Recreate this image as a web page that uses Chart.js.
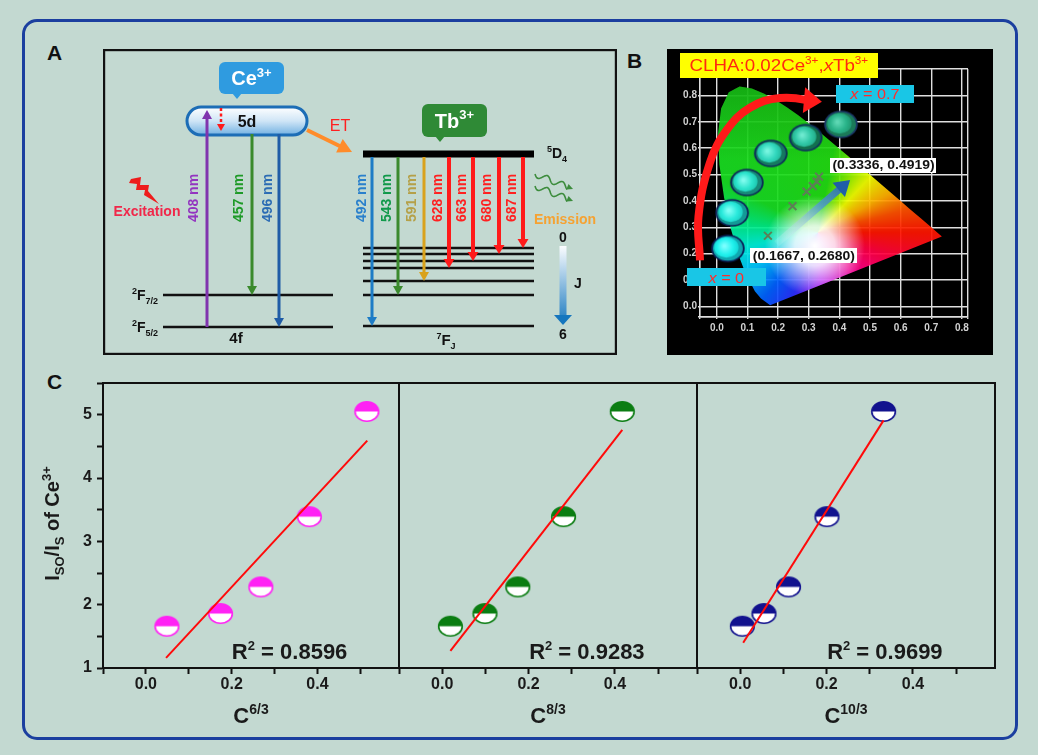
<!DOCTYPE html>
<html>
<head>
<meta charset="utf-8">
<title>Ce3+ / Tb3+ energy transfer</title>
<script src="https://cdn.jsdelivr.net/npm/chart.js@4.4.1/dist/chart.umd.min.js"></script>
<style>
  html, body { margin:0; padding:0; }
  body { width:1038px; height:755px; overflow:hidden; position:relative; background:#c3d9d1; font-family:"Liberation Sans", Arial, sans-serif; }
  #frame { position:absolute; left:22px; top:19px; width:996px; height:721px; border:3px solid #1b3f9f; border-radius:15px; box-sizing:border-box; }
  canvas { position:absolute; }
  .panel { position:absolute; font-weight:bold; font-size:21px; line-height:21px; color:#111; }
</style>
</head>
<body>
<div id="frame"></div>
<div class="panel" style="left:47px;top:42px">A</div>
<div class="panel" style="left:627px;top:50px">B</div>
<div class="panel" style="left:47px;top:371px">C</div>
<canvas id="panelA" width="514" height="306" style="left:103px;top:49px;width:514px;height:306px"></canvas>
<canvas id="panelB" width="326" height="306" style="left:667px;top:49px;width:326px;height:306px;background:#000"></canvas>
<canvas id="c1" width="390" height="390" style="left:14px;top:360px;width:390px;height:390px"></canvas>
<canvas id="c2" width="308" height="390" style="left:394px;top:360px;width:308px;height:390px"></canvas>
<canvas id="c3" width="308" height="390" style="left:692px;top:360px;width:308px;height:390px"></canvas>
<script>
// ====================== DATA ======================
// ---- Panel C : I_SO/I_S of Ce3+ versus C^(n/3) ----
const concPowers = ['6/3', '8/3', '10/3'];
const cPow63  = [0.049, 0.174, 0.268, 0.381, 0.515];
const cPow83  = [0.019, 0.099, 0.175, 0.281, 0.417];
const cPow103 = [0.005, 0.055, 0.112, 0.201, 0.332];
const isoOverIs = [1.66, 1.86, 2.28, 3.39, 5.05];
const fit63X  = [0.047, 0.516], fit63Y  = [1.16, 4.59];
const fit83X  = [0.019, 0.417], fit83Y  = [1.27, 4.76];
const fit103X = [0.007, 0.332], fit103Y = [1.40, 4.91];
const r2Values = ['0.8596', '0.9283', '0.9699'];
const cXTicks = [-0.1, 0, 0.1, 0.2, 0.3, 0.4, 0.5];
const cXTickLabels = ['', '0.0', '', '0.2', '', '0.4', ''];
const cYTicks = [1, 1.5, 2, 2.5, 3, 3.5, 4, 4.5, 5, 5.5];
const cYTickLabels = ['1', '', '2', '', '3', '', '4', '', '5', ''];

// ---- Panel B : CIE 1931 chromaticity diagram ----
const locusX = [0.1741,0.1440,0.1241,0.0913,0.0687,0.0454,0.0235,0.0082,0.0039,0.0139,0.0389,0.0743,0.1142,0.1547,0.1929,0.2296,0.2658,0.3016,0.3373,0.3731,0.4087,0.4441,0.4788,0.5125,0.5448,0.5752,0.6029,0.6270,0.6482,0.6658,0.6915,0.7347];
const locusY = [0.0050,0.0297,0.0578,0.1327,0.2007,0.2950,0.4127,0.5384,0.6548,0.7502,0.8120,0.8338,0.8262,0.8059,0.7816,0.7543,0.7243,0.6923,0.6589,0.6245,0.5896,0.5547,0.5202,0.4866,0.4544,0.4242,0.3965,0.3725,0.3514,0.3340,0.3083,0.2653];
const cieX = [0.1667, 0.247, 0.293, 0.313, 0.326, 0.3336];
const cieY = [0.2680, 0.380, 0.435, 0.456, 0.473, 0.4919];
const photoX = [0.036, 0.050, 0.098, 0.176, 0.290, 0.405];
const photoY = [0.220, 0.355, 0.470, 0.580, 0.640, 0.690];
const shiftX = [0.195, 0.435], shiftY = [0.238, 0.479];
const trendX = [-0.055, -0.060, -0.023, 0.033, 0.108, 0.206, 0.343];
const trendY = [0.175, 0.340, 0.544, 0.670, 0.753, 0.790, 0.776];
const bXTicks = [-0.055, 0, 0.1, 0.2, 0.3, 0.4, 0.5, 0.6, 0.7, 0.8, 0.82];
const bXTickLabels = ['', '0.0', '0.1', '0.2', '0.3', '0.4', '0.5', '0.6', '0.7', '0.8', ''];
const bYTicks = [-0.04, 0, 0.1, 0.2, 0.3, 0.4, 0.5, 0.6, 0.7, 0.8, 0.9];
const bYTickLabels = ['', '0.0', '0.1', '0.2', '0.3', '0.4', '0.5', '0.6', '0.7', '0.8', ''];
const cieLabels = ['(0.1667, 0.2680)', '(0.3336, 0.4919)'];
const dopingLabels = ['0', '0.7'];

// ---- Panel A : energy levels (diagram energy units) ----
const ceLevelE = [60, 28];                       // 2F7/2, 2F5/2
const ce5dE = [220, 248];                        // 5d band bottom / top
const tbLevelE = [107, 101, 94, 87, 74, 60, 29]; // 7F0 ... 7F6
const tb5D4E = 201;
const ceWavelengths = ['408', '457', '496'];
const tbWavelengths = ['492', '543', '591', '628', '663', '680', '687'];
const tbFinalJ = [6, 5, 4, 3, 2, 1, 0];

// ====================== LAYOUT / STYLE ======================
const FONT = '"Liberation Sans", Arial, Helvetica, sans-serif';
Chart.defaults.font.family = FONT;
Chart.defaults.animation = false;
Chart.defaults.events = [];
Chart.defaults.plugins.legend.display = false;
Chart.defaults.plugins.tooltip.enabled = false;

const aLay = {
  ceLevelX: [60, 230], tbLevelX: [260, 431], pillX: [84, 204],
  ceArrowX: [104, 149, 176], ceLabelX: [90, 135, 164],
  tbArrowX: [269, 295, 321, 346, 370, 396, 420], tbLabelX: [258, 283, 308, 334, 358, 383, 408],
  labelY: 157, tbStart: 198
};
const ceArrowColors = ['#8034ae', '#3a8a2c', '#1f5ca6'];
const ceLabelColors = ['#9334c0', '#1e9a28', '#2c6cb4'];
const tbArrowColors = ['#1d7cc6', '#3b8a2e', '#d9a21c', '#ff1a1a', '#ff1a1a', '#ff1a1a', '#ff1a1a'];
const tbLabelColors = ['#2a80cc', '#10994a', '#b5a048', '#ff2020', '#ff2020', '#ff2020', '#ff2020'];
const markerColors = ['#ff22f4', '#0b7d12', '#12128e'];

// ====================== HELPERS ======================
function drawRich(ctx, x, y, parts, o) {
  o = o || {};
  const size = o.size || 14, small = o.small || Math.round(size * 0.65);
  const weight = o.weight || 'bold';
  ctx.save();
  ctx.translate(x, y);
  if (o.sx) ctx.scale(o.sx, 1);
  if (o.rot) ctx.rotate(o.rot);
  ctx.textBaseline = 'alphabetic';
  ctx.textAlign = 'left';
  const specs = parts.map(p => {
    const arr = typeof p === 'string' ? [p, 0] : p;
    const s = arr[1] ? small : size;
    const f = (arr[2] ? 'italic ' : '') + weight + ' ' + s + 'px ' + FONT;
    ctx.font = f;
    return { t: arr[0], m: arr[1], f: f, col: arr[3], w: ctx.measureText(arr[0]).width };
  });
  const total = specs.reduce((a, s) => a + s.w, 0);
  let cx = o.align === 'left' ? 0 : o.align === 'right' ? -total : -total / 2;
  const base = size * 0.36;
  for (const s of specs) {
    ctx.font = s.f;
    ctx.fillStyle = s.col || o.color || '#111';
    const dy = s.m === 1 ? -size * 0.42 : s.m === -1 ? size * 0.26 : 0;
    ctx.fillText(s.t, cx, base + dy);
    cx += s.w;
  }
  ctx.restore();
}
function rr(ctx, x, y, w, h, r) {
  ctx.beginPath();
  ctx.moveTo(x + r, y); ctx.lineTo(x + w - r, y); ctx.arcTo(x + w, y, x + w, y + r, r);
  ctx.lineTo(x + w, y + h - r); ctx.arcTo(x + w, y + h, x + w - r, y + h, r);
  ctx.lineTo(x + r, y + h); ctx.arcTo(x, y + h, x, y + h - r, r);
  ctx.lineTo(x, y + r); ctx.arcTo(x, y, x + r, y, r); ctx.closePath();
}
function seg(x0, y0, x1, y1, color, w, extra) {
  return Object.assign({ data: [{x: x0, y: y0}, {x: x1, y: y1}], showLine: true, borderColor: color,
    backgroundColor: color, borderWidth: w, pointRadius: 0, borderCapStyle: 'butt', tension: 0, clip: false }, extra || {});
}
// arrow heads for datasets carrying a "head" description
const tipStore = new Map();
const arrowPlugin = {
  id: 'arrowHeads',
  beforeDatasetDraw(chart, args) {
    const ds = chart.data.datasets[args.index];
    if (!ds.head) return;
    const pts = args.meta.data, n = pts.length;
    const a = pts[n - 2], b = pts[n - 1];
    const dx = b.x - a.x, dy = b.y - a.y, L = Math.hypot(dx, dy) || 1;
    const t = { x: b.x, y: b.y, ux: dx / L, uy: dy / L };
    tipStore.set(chart.id + ':' + args.index, t);
    b.x -= t.ux * ds.head.len * 0.7; b.y -= t.uy * ds.head.len * 0.7;
  },
  afterDatasetDraw(chart, args) {
    const ds = chart.data.datasets[args.index];
    const t = tipStore.get(chart.id + ':' + args.index);
    if (!ds.head || !t) return;
    const pts = args.meta.data, b = pts[pts.length - 1];
    b.x = t.x; b.y = t.y;
    const ctx = chart.ctx, h = ds.head;
    const bx = t.x - t.ux * h.len, by = t.y - t.uy * h.len, nx = -t.uy, ny = t.ux;
    ctx.save();
    ctx.beginPath(); ctx.moveTo(t.x, t.y);
    ctx.lineTo(bx + nx * h.width / 2, by + ny * h.width / 2);
    ctx.lineTo(bx - nx * h.width / 2, by - ny * h.width / 2);
    ctx.closePath(); ctx.fillStyle = h.color; ctx.fill();
    ctx.restore();
  }
};

// ====================== PANEL A ======================
(function () {
  const ds = [];
  ceLevelE.forEach(e => ds.push(seg(aLay.ceLevelX[0], e, aLay.ceLevelX[1], e, '#111', 2.5, {order: 9})));
  tbLevelE.forEach(e => ds.push(seg(aLay.tbLevelX[0], e, aLay.tbLevelX[1], e, '#111', 2.5, {order: 9})));
  ds.push(seg(aLay.tbLevelX[0], tb5D4E, aLay.tbLevelX[1], tb5D4E, '#000', 7, {order: 9}));
  const ceFrom = [ceLevelE[1], ce5dE[0] + 1, ce5dE[0] + 1];
  const ceTo = [ce5dE[1] - 3, ceLevelE[0], ceLevelE[1]];
  ceWavelengths.forEach((w, i) => ds.push(seg(aLay.ceArrowX[i], ceFrom[i], aLay.ceArrowX[i], ceTo[i], ceArrowColors[i], 3,
    {order: 2, head: {len: 9, width: 10, color: ceArrowColors[i]}})));
  ds.push(seg(118, ce5dE[1] - 1, 118, ce5dE[0] + 4, '#ff1a1a', 2.5, {order: 1, borderDash: [3, 2.5], head: {len: 7, width: 8, color: '#ff1a1a'}}));
  ds.push(seg(ce5dE[1] - 44, ce5dE[0] + 5, 249, tb5D4E + 2, '#ff8c2a', 4, {order: 2, head: {len: 14, width: 15, color: '#ff8c2a'}}));
  tbWavelengths.forEach((w, i) => ds.push(seg(aLay.tbArrowX[i], aLay.tbStart, aLay.tbArrowX[i], tbLevelE[tbFinalJ[i]],
    tbArrowColors[i], i >= 3 ? 4 : 3, {order: 2, head: {len: 9, width: i >= 3 ? 11 : 10, color: tbArrowColors[i]}})));
  ds.push(seg(460, tbLevelE[0] + 2, 460, tbLevelE[6] + 1, (c) => {
    const ch = c.chart; if (!ch.chartArea) return '#1576be';
    const y0 = ch.scales.y.getPixelForValue(tbLevelE[0] + 2), y1 = ch.scales.y.getPixelForValue(tbLevelE[6]);
    const g = ch.ctx.createLinearGradient(0, y0, 0, y1); g.addColorStop(0, '#fbfdff'); g.addColorStop(1, '#1576be'); return g;
  }, 7, {order: 2, head: {len: 10, width: 18, color: '#1576be'}}));

  const plug = {
    id: 'panelA',
    beforeDatasetsDraw(chart) {
      const ctx = chart.ctx, X = v => chart.scales.x.getPixelForValue(v), Y = v => chart.scales.y.getPixelForValue(v);
      const x0 = X(aLay.pillX[0]), x1 = X(aLay.pillX[1]), yT = Y(ce5dE[1]), yB = Y(ce5dE[0]);
      ctx.save();
      rr(ctx, x0, yT, x1 - x0, yB - yT, (yB - yT) / 2);
      const g = ctx.createLinearGradient(0, yT, 0, yB);
      g.addColorStop(0, '#ffffff'); g.addColorStop(0.5, '#cfe5f6'); g.addColorStop(1, '#72b1e2');
      ctx.fillStyle = g; ctx.fill(); ctx.lineWidth = 3; ctx.strokeStyle = '#1c6db6'; ctx.stroke();
      ctx.restore();
    },
    afterDatasetsDraw(chart) {
      const ctx = chart.ctx, X = v => chart.scales.x.getPixelForValue(v), Y = v => chart.scales.y.getPixelForValue(v);
      function callout(xa, xb, ya, yb, tx, color) {
        const px0 = X(xa), px1 = X(xb), py0 = Y(yb), py1 = Y(ya);
        ctx.save(); rr(ctx, px0, py0, px1 - px0, py1 - py0, 6); ctx.fillStyle = color; ctx.fill();
        ctx.beginPath(); ctx.moveTo(X(tx) - 5, py1 - 1); ctx.lineTo(X(tx) + 5, py1 - 1); ctx.lineTo(X(tx), py1 + 5); ctx.closePath(); ctx.fill();
        ctx.restore();
      }
      callout(116, 181, 261, 293, 134, '#2f9be0');
      drawRich(ctx, X(148.5), Y(277), [['Ce', 0], ['3+', 1]], {size: 20, small: 13, color: '#fff'});
      callout(319, 384, 218, 251, 337, '#2f8a36');
      drawRich(ctx, X(351.5), Y(234.5), [['Tb', 0], ['3+', 1]], {size: 20, small: 13, color: '#fff'});
      drawRich(ctx, X(144), Y(234), ['5d'], {size: 16});
      drawRich(ctx, X(237), Y(230), ['ET'], {size: 16, weight: 'normal', color: '#ff2020'});
      ceWavelengths.forEach((w, i) => drawRich(ctx, X(aLay.ceLabelX[i]), Y(aLay.labelY), [w + ' nm'], {size: 14, color: ceLabelColors[i], rot: -Math.PI / 2}));
      tbWavelengths.forEach((w, i) => drawRich(ctx, X(aLay.tbLabelX[i]), Y(aLay.labelY), [w + ' nm'], {size: 14, color: tbLabelColors[i], rot: -Math.PI / 2}));
      drawRich(ctx, X(55), Y(ceLevelE[0]), [['2', 1], ['F', 0], ['7/2', -1]], {size: 14, small: 9, align: 'right'});
      drawRich(ctx, X(55), Y(ceLevelE[1]), [['2', 1], ['F', 0], ['5/2', -1]], {size: 14, small: 9, align: 'right'});
      drawRich(ctx, X(133), Y(17), ['4f'], {size: 15});
      drawRich(ctx, X(343), Y(15), [['7', 1], ['F', 0], ['J', -1]], {size: 15, small: 9});
      drawRich(ctx, X(454), Y(tb5D4E + 1), [['5', 1], ['D', 0], ['4', -1]], {size: 14, small: 9});
      drawRich(ctx, X(44), Y(144), ['Excitation'], {size: 14, color: '#f0284a'});
      drawRich(ctx, X(462), Y(136), ['Emission'], {size: 14, color: '#f5a232'});
      drawRich(ctx, X(460), Y(118), ['0'], {size: 14});
      drawRich(ctx, X(460), Y(21), ['6'], {size: 14});
      drawRich(ctx, X(475), Y(72), ['J'], {size: 14});
      const bolt = [[28, 176], [38, 178], [37, 170], [46, 170], [45, 164], [56, 151], [41, 160], [42, 165], [33, 165], [34, 171], [26, 172]];
      ctx.save(); ctx.beginPath();
      bolt.forEach((p, i) => i ? ctx.lineTo(X(p[0]), Y(p[1])) : ctx.moveTo(X(p[0]), Y(p[1])));
      ctx.closePath(); ctx.fillStyle = '#ee1c1c'; ctx.fill(); ctx.restore();
      function wavy(xa, ya, xb, yb) {
        const x0 = X(xa), y0 = Y(ya), x1 = X(xb), y1 = Y(yb);
        const dx = x1 - x0, dy = y1 - y0, L = Math.hypot(dx, dy), ux = dx / L, uy = dy / L, nx = -uy, ny = ux;
        ctx.save(); ctx.strokeStyle = '#3c8c3c'; ctx.fillStyle = '#3c8c3c'; ctx.lineWidth = 1.6; ctx.beginPath();
        for (let s = 0; s <= L - 5; s += 0.5) {
          const a = 3 * Math.sin(s / L * 2.5 * 2 * Math.PI);
          const px = x0 + ux * s + nx * a, py = y0 + uy * s + ny * a;
          if (s) ctx.lineTo(px, py); else ctx.moveTo(px, py);
        }
        ctx.stroke();
        ctx.beginPath(); ctx.moveTo(x1, y1); ctx.lineTo(x1 - ux * 6 + nx * 3, y1 - uy * 6 + ny * 3); ctx.lineTo(x1 - ux * 6 - nx * 3, y1 - uy * 6 - ny * 3);
        ctx.closePath(); ctx.fill(); ctx.restore();
      }
      wavy(432, 181, 470, 166);
      wavy(432, 169, 470, 154);
    },
    afterDraw(chart) {
      const ctx = chart.ctx;
      ctx.save(); ctx.lineWidth = 2.2; ctx.strokeStyle = '#111';
      ctx.strokeRect(1.1, 1.1, chart.width - 2.2, chart.height - 2.2); ctx.restore();
    }
  };

  new Chart(document.getElementById('panelA'), {
    type: 'scatter',
    data: { datasets: ds },
    options: {
      responsive: false, layout: { padding: 0, autoPadding: false },
      scales: { x: { type: 'linear', min: 0, max: 514, display: false }, y: { type: 'linear', min: 0, max: 306, display: false } }
    },
    plugins: [plug, arrowPlugin]
  });
})();

// ====================== PANEL B ======================
(function () {
  function photo(inner, ring, edge) {
    const c = document.createElement('canvas'); c.width = 36; c.height = 30;
    const g = c.getContext('2d');
    g.beginPath(); g.ellipse(18, 15, 16.8, 13.8, 0, 0, 2 * Math.PI); g.fillStyle = edge; g.fill();
    g.beginPath(); g.ellipse(18, 15, 15, 12.2, 0, 0, 2 * Math.PI); g.fillStyle = ring; g.fill();
    const rg = g.createRadialGradient(14.5, 12.5, 1, 16, 14, 12.5);
    rg.addColorStop(0, inner[0]); rg.addColorStop(0.6, inner[1]); rg.addColorStop(1, inner[2]);
    g.beginPath(); g.ellipse(16.5, 14, 12.2, 10.2, 0, 0, 2 * Math.PI); g.fillStyle = rg; g.fill();
    return c;
  }
  const photos = [
    photo(['#7affff', '#22f2ee', '#12d8d8'], '#10a8b0', '#0a1d55'),
    photo(['#80fff6', '#2aeadc', '#1ad0c4'], '#139a96', '#0c2358'),
    photo(['#80fcee', '#2ce4cc', '#1ec8b2'], '#168a78', '#0d2a55'),
    photo(['#78f6e0', '#32d8be', '#22bc9e'], '#157a60', '#0e2d5a'),
    photo(['#6eead0', '#30c8a6', '#24ac8a'], '#12704e', '#0f2e5e'),
    photo(['#5ed8b4', '#2ab48a', '#209a72'], '#1b7a58', '#1a3866')
  ];
  const conicStops = [[0, '#ff1500'], [0.05, '#ff0040'], [0.14, '#ff00a0'], [0.24, '#b000ff'], [0.31, '#2a30ff'],
    [0.36, '#0060ff'], [0.42, '#00c4ff'], [0.47, '#00f0d8'], [0.52, '#00ec80'], [0.58, '#18dc22'], [0.78, '#22dc12'],
    [0.83, '#8cf000'], [0.87, '#f0ff00'], [0.92, '#ffb000'], [0.96, '#ff5000'], [1, '#ff1500']];

  const plug = {
    id: 'panelB',
    beforeDatasetsDraw(chart) {
      const ctx = chart.ctx, X = v => chart.scales.x.getPixelForValue(v), Y = v => chart.scales.y.getPixelForValue(v);
      const meta = chart.getDatasetMeta(0);
      ctx.save();
      ctx.beginPath();
      meta.data.forEach((p, i) => i ? ctx.lineTo(p.x, p.y) : ctx.moveTo(p.x, p.y));
      ctx.closePath(); ctx.clip();
      const cx = X(0.33), cy = Y(0.28);
      const cg = ctx.createConicGradient(0, cx, cy);
      conicStops.forEach(s => cg.addColorStop(s[0], s[1]));
      ctx.globalAlpha = 0.93; ctx.fillStyle = cg; ctx.fillRect(0, 0, chart.width, chart.height);
      const wx = X(0.32), wy = Y(0.23);
      const rg = ctx.createRadialGradient(wx, wy, 0, wx, wy, 50);
      rg.addColorStop(0, 'rgba(255,255,255,1)'); rg.addColorStop(0.4, 'rgba(255,255,255,0.85)'); rg.addColorStop(1, 'rgba(255,255,255,0)');
      ctx.globalAlpha = 1; ctx.fillStyle = rg; ctx.fillRect(0, 0, chart.width, chart.height);
      const dg = ctx.createLinearGradient(0, Y(0.84), 0, Y(0.55));
      dg.addColorStop(0, 'rgba(0,70,0,0.25)'); dg.addColorStop(1, 'rgba(0,70,0,0)');
      ctx.fillStyle = dg; ctx.fillRect(0, 0, chart.width, chart.height);
      ctx.restore();
    },
    afterDatasetsDraw(chart) {
      const ctx = chart.ctx, X = v => chart.scales.x.getPixelForValue(v), Y = v => chart.scales.y.getPixelForValue(v);
      function box(x, y, w, h, bg, parts, o) {
        const px = X(x), py = Y(y);
        ctx.save(); ctx.fillStyle = bg; ctx.fillRect(Math.round(px - w / 2), Math.round(py - h / 2), w, h); ctx.restore();
        drawRich(ctx, px, py, parts, o);
      }
      box(0.2026, 0.914, 198, 25, '#ffff00', [['CLHA:0.02Ce', 0], ['3+', 1], [',', 0], ['x', 0, true], ['Tb', 0], ['3+', 1]],
        {size: 16, small: 10, weight: 'normal', color: '#ff2a10', sx: 1.17});
      box(0.516, 0.806, 78, 18, '#19c6e6', [['x', 0, true], [' = ' + dopingLabels[1], 0]], {size: 15, weight: 'normal', color: '#ff2d2d', sx: 1.08});
      box(0.031, 0.110, 79, 18, '#19c6e6', [['x', 0, true], [' = ' + dopingLabels[0], 0]], {size: 15, weight: 'normal', color: '#ff2d2d', sx: 1.08});
      box(0.544, 0.536, 106, 15, '#ffffff', [cieLabels[1]], {size: 12, color: '#111', sx: 1.16});
      box(0.284, 0.192, 107, 15, '#ffffff', [cieLabels[0]], {size: 12, color: '#111', sx: 1.16});
    }
  };

  const tickFont = { size: 10, weight: 'bold' };
  new Chart(document.getElementById('panelB'), {
    type: 'scatter',
    data: { datasets: [
      { data: locusX.map((x, i) => ({x: x, y: locusY[i]})), pointRadius: 0, showLine: false, order: 10 },
      { data: shiftX.map((x, i) => ({x: x, y: shiftY[i]})), showLine: true, pointRadius: 0, borderWidth: 7, borderCapStyle: 'butt', order: 6,
        borderColor: (c) => {
          const ch = c.chart; if (!ch.chartArea) return '#1f5ea8';
          const g = ch.ctx.createLinearGradient(ch.scales.x.getPixelForValue(shiftX[0]), ch.scales.y.getPixelForValue(shiftY[0]),
            ch.scales.x.getPixelForValue(shiftX[1]), ch.scales.y.getPixelForValue(shiftY[1]));
          g.addColorStop(0, 'rgba(255,255,255,0.1)'); g.addColorStop(0.6, 'rgba(80,150,210,0.8)'); g.addColorStop(1, '#1f5ea8'); return g;
        }, head: { len: 15, width: 19, color: '#1f5ea8' } },
      { data: cieX.map((x, i) => ({x: x, y: cieY[i]})), pointStyle: 'crossRot', pointRadius: 5.5, pointBorderWidth: 2,
        pointBorderColor: '#5d7f56', order: 5 },
      { data: trendX.map((x, i) => ({x: x, y: trendY[i]})), showLine: true, tension: 0.4, pointRadius: 0, borderWidth: 8,
        borderColor: '#ff1a1a', borderCapStyle: 'butt', clip: false, order: 4, head: { len: 18, width: 26, color: '#ff1a1a' } },
      { data: photoX.map((x, i) => ({x: x, y: photoY[i]})), pointStyle: photos, pointRadius: 14, order: 3 }
    ] },
    options: {
      responsive: false,
      layout: { padding: { top: 20, right: 25, left: 0, bottom: 0 }, autoPadding: false },
      scales: {
        x: { type: 'linear', min: bXTicks[0], max: bXTicks[bXTicks.length - 1],
          afterBuildTicks: s => { s.ticks = bXTicks.map(v => ({value: v})); },
          afterFit: s => { s.height = 38; },
          ticks: { autoSkip: false, maxRotation: 0, color: '#d2d2d2', font: tickFont, padding: 3, callback: (v, i) => bXTickLabels[i] },
          grid: { color: '#dedede', lineWidth: 1.4, tickLength: 2, tickColor: '#dedede' }, border: { color: '#dedede', width: 1.4 } },
        y: { type: 'linear', min: bYTicks[0], max: bYTicks[bYTicks.length - 1],
          afterBuildTicks: s => { s.ticks = bYTicks.map(v => ({value: v})); },
          afterFit: s => { s.width = 33; },
          ticks: { autoSkip: false, color: '#d2d2d2', font: tickFont, padding: 1, callback: (v, i) => bYTickLabels[i] },
          grid: { color: '#dedede', lineWidth: 1.4, tickLength: 2, tickColor: '#dedede' }, border: { color: '#dedede', width: 1.4 } }
      }
    },
    plugins: [plug, arrowPlugin]
  });
})();

// ====================== PANEL C ======================
(function () {
  function halfMarker(color) {
    const c = document.createElement('canvas'); c.width = 27; c.height = 23;
    const g = c.getContext('2d');
    g.beginPath(); g.ellipse(13.5, 11.5, 11.8, 9.8, 0, 0, 2 * Math.PI); g.fillStyle = '#fff'; g.fill();
    g.beginPath(); g.ellipse(13.5, 11.5, 11.8, 9.8, 0, Math.PI, 2 * Math.PI); g.closePath(); g.fillStyle = color; g.fill();
    g.beginPath(); g.ellipse(13.5, 11.5, 11.8, 9.8, 0, 0, 2 * Math.PI); g.lineWidth = 1.6; g.strokeStyle = color; g.stroke();
    return c;
  }
  const sets = [
    { id: 'c1', xs: cPow63, fx: fit63X, fy: fit63Y, pad: { top: 23, right: 5, left: 0, bottom: 0 }, showY: true },
    { id: 'c2', xs: cPow83, fx: fit83X, fy: fit83Y, pad: { top: 23, right: 5, left: 5, bottom: 0 }, showY: false },
    { id: 'c3', xs: cPow103, fx: fit103X, fy: fit103Y, pad: { top: 23, right: 5, left: 5, bottom: 0 }, showY: false }
  ];
  const plug = {
    id: 'panelC',
    afterDatasetsDraw(chart, args, opts) {
      const ctx = chart.ctx, a = chart.chartArea;
      const X = v => chart.scales.x.getPixelForValue(v), Y = v => chart.scales.y.getPixelForValue(v);
      ctx.save(); ctx.lineWidth = 2; ctx.strokeStyle = '#111';
      ctx.strokeRect(a.left, a.top, a.right - a.left, a.bottom - a.top); ctx.restore();
      drawRich(ctx, X(0.335), Y(1.27), [['R', 0], ['2', 1], [' = ' + r2Values[opts.k], 0]], {size: 22, small: 13, color: '#1a1a1a'});
      drawRich(ctx, (a.left + a.right) / 2, a.bottom + 47, [['C', 0], [concPowers[opts.k], 1]], {size: 22, small: 14, color: '#1a1a1a'});
      if (opts.showY) {
        drawRich(ctx, a.left - 51, (a.top + a.bottom) / 2 - 2,
          [['I', 0], ['SO', -1], ['/I', 0], ['S', -1], [' of Ce', 0], ['3+', 1]], {size: 20, small: 13, rot: -Math.PI / 2, color: '#1a1a1a'});
      }
    }
  };
  sets.forEach((s, k) => {
    const yScale = { type: 'linear', min: 1, max: 5.5, display: s.showY,
      afterBuildTicks: sc => { sc.ticks = cYTicks.map(v => ({value: v})); },
      ticks: { autoSkip: false, padding: 5, color: '#1a1a1a', font: { size: 16, weight: 'bold' }, callback: (v, i) => cYTickLabels[i] },
      grid: { drawOnChartArea: false, tickLength: 6, tickWidth: 2, tickColor: '#111' }, border: { display: true, color: '#111', width: 2 } };
    if (s.showY) yScale.afterFit = sc => { sc.width = 89; };
    new Chart(document.getElementById(s.id), {
      type: 'scatter',
      data: { datasets: [
        { data: s.fx.map((x, i) => ({x: x, y: s.fy[i]})), showLine: true, borderColor: '#ff0a0a', borderWidth: 2, pointRadius: 0, order: 0 },
        { data: s.xs.map((x, i) => ({x: x, y: isoOverIs[i]})), pointStyle: halfMarker(markerColors[k]), pointRadius: 11, order: 1 }
      ] },
      options: {
        responsive: false,
        layout: { padding: s.pad, autoPadding: false },
        scales: {
          x: { type: 'linear', min: -0.1, max: 0.59,
            afterBuildTicks: sc => { sc.ticks = cXTicks.map(v => ({value: v})); },
            afterFit: sc => { sc.height = 82; },
            ticks: { autoSkip: false, maxRotation: 0, padding: 1, color: '#1a1a1a', font: { size: 16, weight: 'bold' }, callback: (v, i) => cXTickLabels[i] },
            grid: { drawOnChartArea: false, tickLength: 6, tickWidth: 2, tickColor: '#111' }, border: { display: true, color: '#111', width: 2 } },
          y: yScale
        },
        plugins: { panelC: { k: k, showY: s.showY } }
      },
      plugins: [plug]
    });
  });
})();
</script>
</body>
</html>
